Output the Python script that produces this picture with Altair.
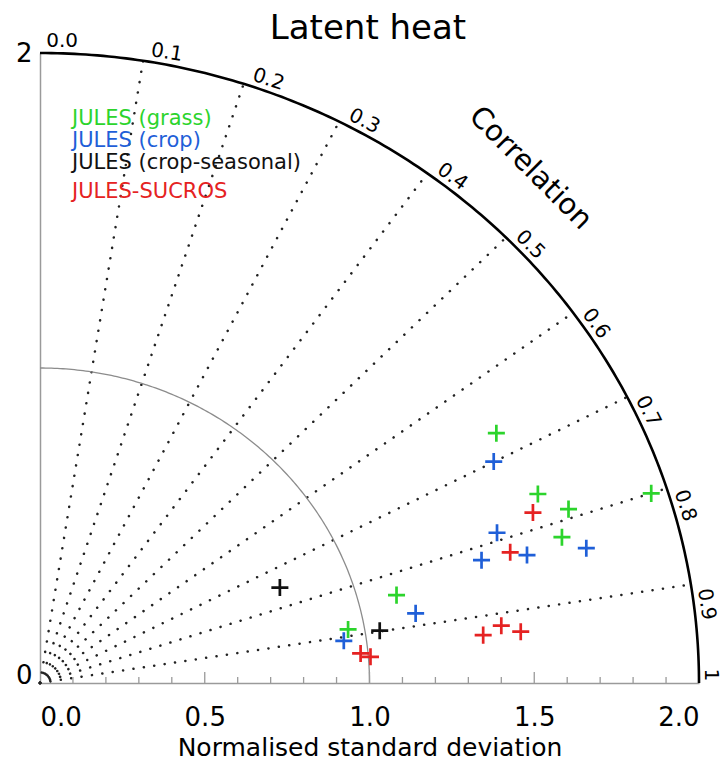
import altair as alt
import pandas as pd

# ---------------- data ----------------
TITLE = "Latent heat"
X_TITLE = "Normalised standard deviation"
CORR_TITLE = "Correlation"

series_names = ["JULES (grass)", "JULES (crop)", "JULES (crop-seasonal)", "JULES-SUCROS"]
series_colors = ["#2cd42c", "#1f5fd8", "#111111", "#e52222"]

grass_x = [1.385, 1.511, 1.604, 1.855, 1.584, 1.082, 0.935]
grass_y = [0.793, 0.600, 0.552, 0.602, 0.463, 0.279, 0.170]
crop_x = [1.377, 1.387, 1.658, 1.478, 1.340, 1.140, 0.922]
crop_y = [0.703, 0.477, 0.428, 0.406, 0.390, 0.221, 0.134]
seasonal_x = [0.728, 1.031]
seasonal_y = [0.303, 0.166]
sucros_x = [1.496, 1.427, 1.345, 1.400, 1.459, 0.973, 1.003]
sucros_y = [0.541, 0.415, 0.152, 0.182, 0.163, 0.094, 0.083]

corr_lines = [0.1, 0.2, 0.3, 0.4, 0.5, 0.6, 0.7, 0.8, 0.9]
corr_ticks = [0.0, 0.1, 0.2, 0.3, 0.4, 0.5, 0.6, 0.7, 0.8, 0.9, 1.0]
corr_tick_labels = ["0.0", "0.1", "0.2", "0.3", "0.4", "0.5", "0.6", "0.7", "0.8", "0.9", "1"]

x_tick_values = [0.0, 0.5, 1.0, 1.5, 2.0]
y_tick_values = [0, 1, 2]
minor_ticks = [0.1, 0.2, 0.3, 0.4, 0.6, 0.7, 0.8, 0.9, 1.1, 1.2, 1.3, 1.4, 1.6, 1.7, 1.8, 1.9]
major_ticks = [0.5, 1.0, 1.5]

REF_RADIUS = 1.0
OUTER_RADIUS = 2.0

# ---------------- layout constants ----------------
W, H = 659, 630
FONT = "DejaVu Sans"
LEGEND_Y = [72, 94, 116, 145]

xs = alt.Scale(domain=[0, 2], nice=False, zero=False)
ys = alt.Scale(domain=[0, 2], nice=False, zero=False)

x_axis = alt.Axis(
    values=x_tick_values, format=".1f", labelFontSize=26, labelFont=FONT,
    labelColor="black", labelPadding=42, labelBaseline="alphabetic",
    ticks=False, tickSize=0, grid=False, domainColor="#9a9a9a", domainWidth=1.5,
    title=X_TITLE, titleFontSize=25, titleFont=FONT, titleFontWeight="normal",
    titleColor="black", titleY=72, titleBaseline="alphabetic",
)
y_axis = alt.Axis(
    values=y_tick_values, format="d", labelFontSize=26, labelFont=FONT,
    labelColor="black", labelPadding=8, ticks=False, tickSize=0, grid=False,
    labelBaseline={"condition": {"test": "datum.value === 0", "value": "alphabetic"},
                   "value": "middle"},
    domainColor="#9a9a9a", domainWidth=1.5, title=None,
)


def X(field):
    return alt.X(field, type="quantitative", scale=xs, axis=x_axis)


def Y(field):
    return alt.Y(field, type="quantitative", scale=ys, axis=y_axis)


ANG = "(1 - datum.r) * PI / 2"

# correlation (dotted) lines from the origin
lines = (
    alt.Chart(pd.DataFrame({"r": corr_lines}))
    .transform_calculate(theta=ANG)
    .transform_calculate(
        x0="0", y0="0",
        xe=f"{OUTER_RADIUS} * cos(datum.theta)", ye=f"{OUTER_RADIUS} * sin(datum.theta)",
    )
    .mark_rule(color="#222222", strokeWidth=2.5, strokeDash=[0.1, 10.4], strokeCap="round")
    .encode(x=X("x0"), y=Y("y0"), x2="xe:Q", y2="ye:Q")
)


def arc(radius, color, width):
    return (
        alt.Chart(alt.sequence(0, 90.5, 0.5, as_="deg"))
        .transform_calculate(
            ax=f"{radius} * cos(datum.deg * PI / 180)",
            ay=f"{radius} * sin(datum.deg * PI / 180)",
        )
        .mark_line(color=color, strokeWidth=width)
        .encode(x=X("ax"), y=Y("ay"), order="deg:Q")
    )


ref_arc = arc(REF_RADIUS, "#8c8c8c", 1.3)
outer_arc = arc(OUTER_RADIUS, "#000000", 2.6)

# small ticks on x axis pointing upward
minor = (
    alt.Chart(pd.DataFrame({"t": minor_ticks}))
    .mark_rule(color="#9a9a9a", strokeWidth=1.3)
    .encode(x=X("t"), y=alt.value(H), y2=alt.value(H - 6))
)
major = (
    alt.Chart(pd.DataFrame({"t": major_ticks}))
    .mark_rule(color="#9a9a9a", strokeWidth=1.3)
    .encode(x=X("t"), y=alt.value(H), y2=alt.value(H - 11))
)

# correlation labels along the outer arc
corr_base = (
    alt.Chart(pd.DataFrame({"r": corr_ticks, "lab": corr_tick_labels}))
    .transform_calculate(theta=ANG)
    .transform_calculate(
        lx=f"({OUTER_RADIUS} + 0.037) * cos(datum.theta) + 0.019 * sin(datum.theta)",
        ly=f"({OUTER_RADIUS} + 0.037) * sin(datum.theta) - 0.019 * cos(datum.theta)",
        lx_end=f"({OUTER_RADIUS} + 0.037) * cos(datum.theta) - 0.006 * sin(datum.theta)",
        ly_end=f"({OUTER_RADIUS} + 0.037) * sin(datum.theta) + 0.006 * cos(datum.theta)",
        rot="90 * datum.r",
    )
)
corr_labels = (
    corr_base.transform_filter("datum.r < 1")
    .mark_text(align="left", baseline="middle", fontSize=20, font=FONT, color="black")
    .encode(x=X("lx"), y=Y("ly"), text="lab:N", angle=alt.Angle("rot:Q", scale=None))
)
corr_label_end = (
    corr_base.transform_filter("datum.r >= 1")
    .mark_text(align="right", baseline="middle", fontSize=20, font=FONT, color="black")
    .encode(x=X("lx_end"), y=Y("ly_end"), text="lab:N", angle=alt.Angle("rot:Q", scale=None))
)

corr_title = (
    alt.Chart(pd.DataFrame({"lab": [CORR_TITLE]}))
    .mark_text(align="center", baseline="middle", fontSize=29, font=FONT, color="black", angle=45)
    .encode(x=alt.datum(1.489, scale=xs), y=alt.datum(1.635, scale=ys), text="lab:N")
)

# chart title as a text mark above the plot
title = (
    alt.Chart(pd.DataFrame({"lab": [TITLE]}))
    .mark_text(align="center", baseline="alphabetic", fontSize=34, font=FONT, color="black")
    .encode(x=alt.value(328), y=alt.value(-14), text="lab:N")
)

# scatter crosses
rows = []
for name, xv, yv in zip(series_names, [grass_x, crop_x, seasonal_x, sucros_x],
                        [grass_y, crop_y, seasonal_y, sucros_y]):
    for a, b in zip(xv, yv):
        rows.append({"series": name, "sx": a, "sy": b})
pts_df = pd.DataFrame(rows)

color_scale = alt.Scale(domain=series_names, range=series_colors)
points = (
    alt.Chart(pts_df)
    .mark_point(shape="M-1,0L1,0M0,-1L0,1", filled=False, strokeWidth=2.7, size=290, opacity=1)
    .encode(x=X("sx"), y=Y("sy"), color=alt.Color("series:N", scale=color_scale, legend=None))
)

# legend as text lines
legend_layers = []
for i, (name, col) in enumerate(zip(series_names, series_colors)):
    legend_layers.append(
        alt.Chart(pd.DataFrame({"lab": [name]}))
        .mark_text(align="left", baseline="alphabetic", fontSize=21, font=FONT, color=col)
        .encode(x=alt.value(32), y=alt.value(LEGEND_Y[i]), text="lab:N")
    )

chart = alt.layer(
    lines, ref_arc, minor, major, outer_arc, corr_labels, corr_label_end, corr_title,
    title, points, *legend_layers
).properties(
    width=W, height=H,
    padding={"left": 40, "top": 53, "right": 25, "bottom": 78},
    autosize=alt.AutoSizeParams(type="none"),
).configure_view(stroke=None)

chart.save("out.html", embed_options={"renderer": "svg", "actions": False})
